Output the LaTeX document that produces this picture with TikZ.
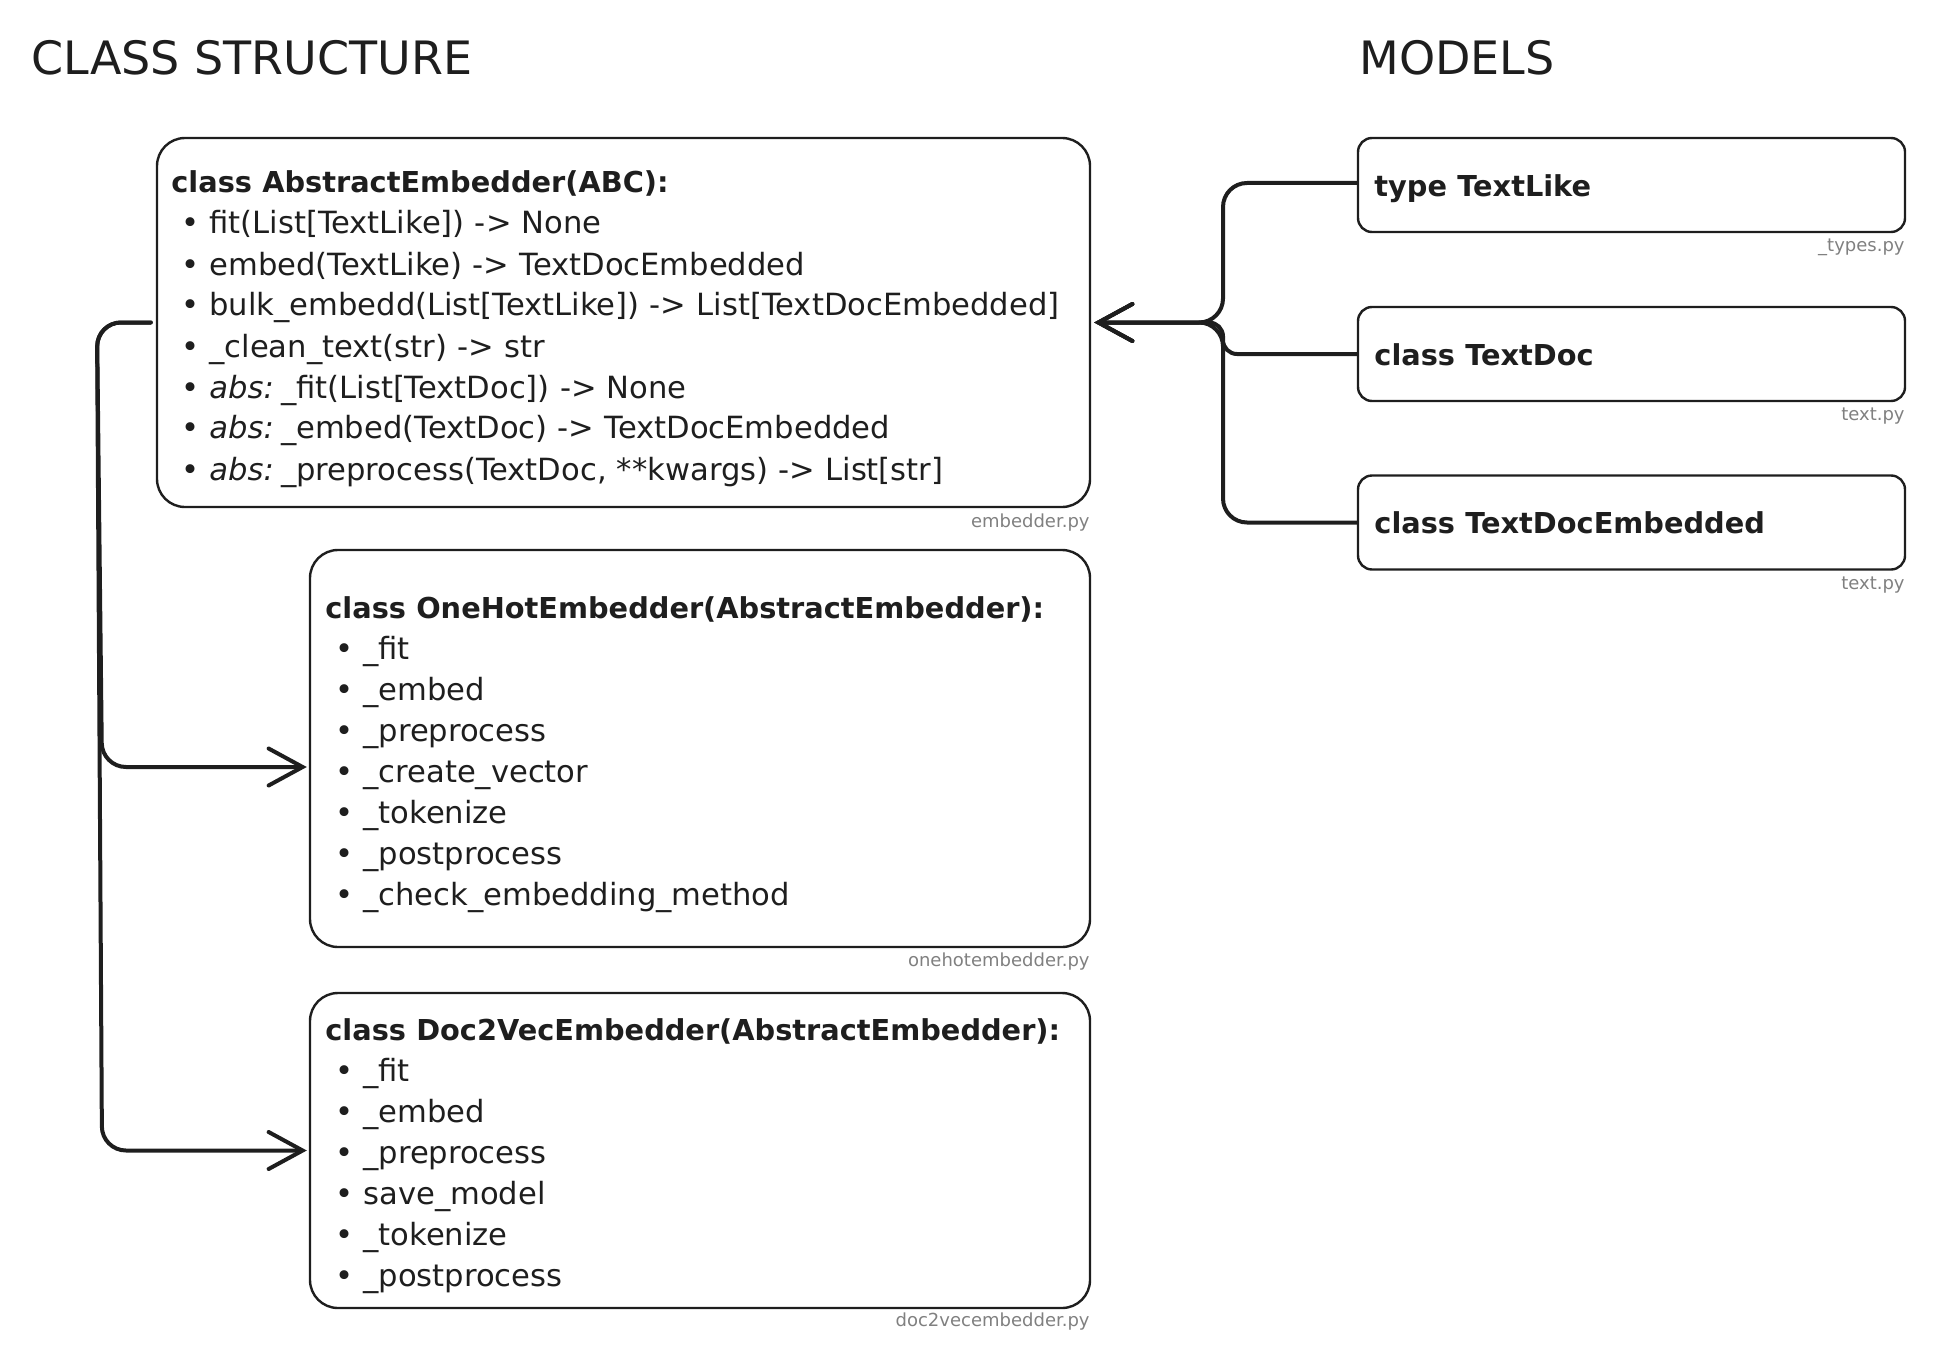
\documentclass[tikz,border=0pt]{standalone}
\usepackage{fontspec}
\setmainfont{DejaVu Sans}
\usetikzlibrary{arrows.meta}
\definecolor{ink}{HTML}{1E1E1E}
\definecolor{lbl}{HTML}{808080}
\newcommand\bitem[1]{\hspace*{5pt}\makebox[14pt][l]{\textbullet}#1}
\newcommand\bt[1]{{\fontsize{14.4}{20.5}\selectfont\bfseries #1}}
\newcommand\absm{\textit{abs:}\kern-1.5pt\ }
\begin{document}
\begin{tikzpicture}[x=0.5pt,y=-0.5pt,
  classbox/.style={draw=ink, line width=1.2pt, rounded corners=14pt, inner sep=0pt},
  modelbox/.style={draw=ink, line width=1.2pt, rounded corners=7pt, inner sep=0pt,
    minimum width=273.5pt, minimum height=47pt},
  body/.style={anchor=base west, inner sep=0pt, text width=460pt, align=left,
    text=ink, font=\fontsize{15.3}{20.5}\selectfont},
  fname/.style={anchor=base east, inner sep=0pt, text=lbl, font=\fontsize{9}{11}\selectfont},
  heading/.style={anchor=base west, inner sep=0pt, text=ink, font=\fontsize{23}{28}\selectfont},
  conn/.style={draw=ink, line width=2pt, line cap=round, line join=round,
    -{Straight Barb[length=17pt,width=18.5pt,line cap=round]}}
]
\useasboundingbox (0,0) rectangle (1936,1364);

% headings
\node[heading] (h1) at (31,75) {CLASS STRUCTURE};
\node[heading] (h2) at (1359,75) {MODELS};

% class boxes
\node[classbox, minimum width=466.5pt, minimum height=184.5pt] (abs) at (623.5,322.5) {};
\node[classbox, minimum width=390pt, minimum height=198.5pt] (oh) at (700,748.5) {};
\node[classbox, minimum width=390pt, minimum height=157.5pt] (dv) at (700,1150.5) {};

\node[body] (abstxt) at (171,193) {\bt{class AbstractEmbedder(ABC):}\\
\bitem{fit(List[TextLike]) -> None}\\
\bitem{embed(TextLike) -> TextDocEmbedded}\\
\bitem{bulk\_embedd(List[TextLike]) -> List[TextDocEmbedded]}\\
\bitem{\_clean\_text(str) -> str}\\
\bitem{\absm\_fit(List[TextDoc]) -> None}\\
\bitem{\absm\_embed(TextDoc) -> TextDocEmbedded}\\
\bitem{\absm\_preprocess(TextDoc, **kwargs) -> List[str]}};

\node[body] (ohtxt) at (325,618) {\bt{class OneHotEmbedder(AbstractEmbedder):}\\
\bitem{\_fit}\\
\bitem{\_embed}\\
\bitem{\_preprocess}\\
\bitem{\_create\_vector}\\
\bitem{\_tokenize}\\
\bitem{\_postprocess}\\
\bitem{\_check\_embedding\_method}};

\node[body] (dvtxt) at (325,1040) {\bt{class Doc2VecEmbedder(AbstractEmbedder):}\\
\bitem{\_fit}\\
\bitem{\_embed}\\
\bitem{\_preprocess}\\
\bitem{save\_model}\\
\bitem{\_tokenize}\\
\bitem{\_postprocess}};

\node[fname] (absf) at (1090,527) {embedder.py};
\node[fname] (ohf) at (1090,966) {onehotembedder.py};
\node[fname] (dvf) at (1090,1326) {doc2vecembedder.py};

% model boxes
\node[modelbox] (tl) at (1631.5,185) {};
\node[modelbox] (td) at (1631.5,354) {};
\node[modelbox] (tde) at (1631.5,522.5) {};
\node[body] (tltxt) at (1374,197) {\bt{type TextLike}};
\node[body] (tdtxt) at (1374,365) {\bt{class TextDoc}};
\node[body] (tdetxt) at (1374,533) {\bt{class TextDocEmbedded}};
\node[fname] (tlf) at (1905,251) {\_types.py};
\node[fname] (tdf) at (1905,420) {text.py};
\node[fname] (tdef) at (1905,589) {text.py};

% trunks
\coordinate (ltrunk) at (102,700);
\coordinate (rtrunk) at (1223,400);

% inheritance connectors (left)
\draw[conn, rounded corners=12pt] ([xshift=-2.5pt]abs.west) -- ([xshift=-2.5pt]abs.west -| ltrunk)
  -- ([yshift=-9.25pt]oh.west -| ltrunk) -- ([xshift=-1pt,yshift=-9.25pt]oh.west);
\draw[conn, rounded corners=12pt] ([xshift=-2.5pt]abs.west) -- ([xshift=-2.5pt]abs.west -| ltrunk)
  -- (dv.west -| ltrunk) -- ([xshift=-1pt]dv.west);

% model connectors (right)
\draw[conn, rounded corners=12pt] ([yshift=1pt]tl.west) -- ([yshift=1pt]tl.west -| rtrunk)
  -- (abs.east -| rtrunk) -- ([xshift=1.5pt]abs.east);
\draw[conn, rounded corners=7pt] (td.west) -- (td.west -| rtrunk)
  -- (abs.east -| rtrunk) -- ([xshift=1.5pt]abs.east);
\draw[conn, rounded corners=12pt] (tde.west) -- (tde.west -| rtrunk)
  -- (abs.east -| rtrunk) -- ([xshift=1.5pt]abs.east);
\end{tikzpicture}
\end{document}
